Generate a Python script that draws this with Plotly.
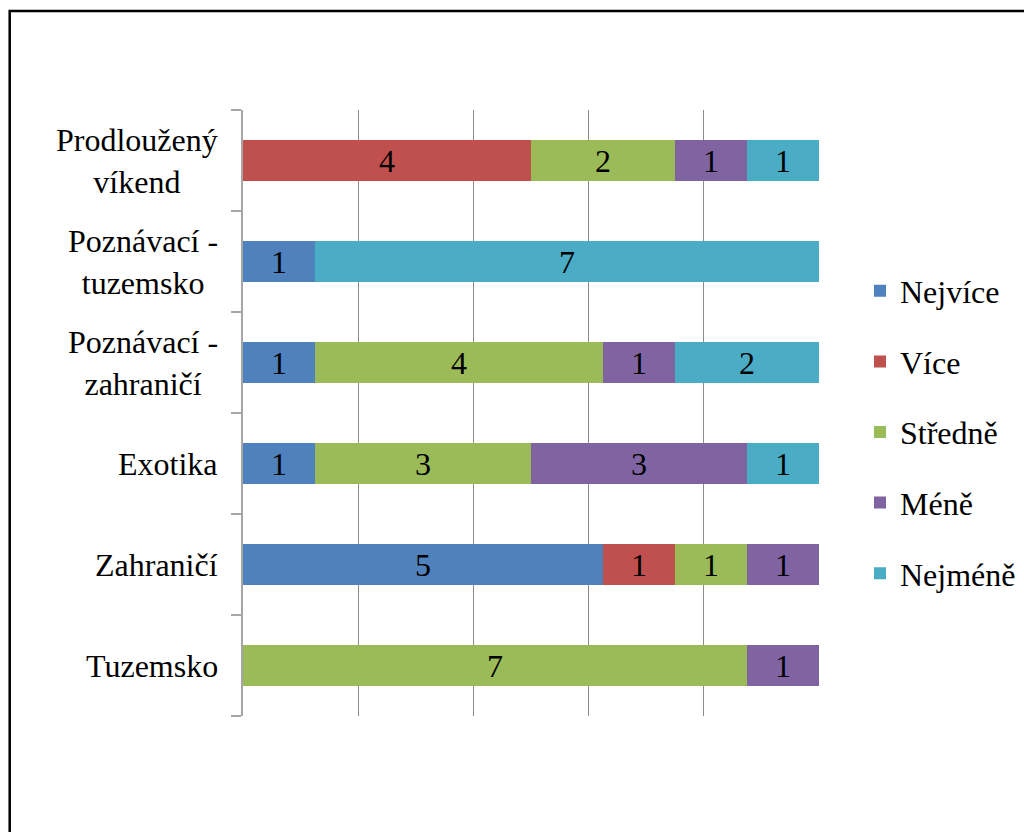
import plotly.graph_objects as go

categories = ["Tuzemsko", "Zahraničí", "Exotika", "Poznávací - zahraničí",
              "Poznávací - tuzemsko", "Prodloužený víkend"]
category_labels = ["Tuzemsko", "Zahraničí", "Exotika", "Poznávací -<br>zahraničí",
                   "Poznávací -<br>tuzemsko", "Prodloužený<br>víkend"]

nejvice = [0, 5, 1, 1, 1, 0]
vice = [0, 1, 0, 0, 0, 4]
stredne = [7, 1, 3, 4, 0, 2]
mene = [1, 1, 3, 1, 0, 1]
nejmene = [0, 0, 1, 2, 7, 1]

series = [
    ("Nejvíce", nejvice, "#4F81BD"),
    ("Více", vice, "#C0504D"),
    ("Středně", stredne, "#9BBB59"),
    ("Méně", mene, "#8064A2"),
    ("Nejméně", nejmene, "#4BACC6"),
]

FONT = "Liberation Serif"
FS = 32
SPAN = "<span style=\"font-family:'Liberation Serif',serif\">%s</span>"

fig = go.Figure()
for name, vals, color in series:
    fig.add_trace(go.Bar(
        y=categories, x=vals, name=SPAN % name, orientation="h",
        marker=dict(color=color),
        text=[str(v) if v else "" for v in vals],
        texttemplate=SPAN % "%{text}",
        textposition="inside", insidetextanchor="middle",
        textangle=0, constraintext="none",
        textfont=dict(family=FONT, size=FS, color="black"),
        legendgroup=name,
    ))

W, H = 1024, 832
L, R, T, B = 243, 205, 110, 116
pw, ph = W - L - R, H - T - B

def px_to_paper_x(px):
    return (px - L) / pw

def px_to_paper_y(py):
    return (H - B - py) / ph

annotations = []
for cat, lab in zip(categories, category_labels):
    annotations.append(dict(
        x=px_to_paper_x(220), xref="paper", xanchor="right",
        y=cat, yref="y", yanchor="middle",
        text=lab, showarrow=False, align="center",
        font=dict(family=FONT, size=FS, color="black"),
    ))

fig.update_layout(
    template="none",
    width=W, height=H,
    margin=dict(l=L, r=R, t=T, b=B, pad=0, autoexpand=False),
    barmode="stack", bargap=0.6,
    paper_bgcolor="white", plot_bgcolor="white",
    showlegend=True,
    legend=dict(
        x=px_to_paper_x(860), xanchor="left",
        y=px_to_paper_y(432), yanchor="middle",
        traceorder="grouped", tracegroupgap=26,
        font=dict(family=FONT, size=FS, color="black"),
    ),
    xaxis=dict(
        range=[0, 8], dtick=1.6, tick0=0,
        showgrid=True, gridcolor="#8C8C8C", gridwidth=1,
        showticklabels=False, zeroline=False, showline=False, ticks="",
    ),
    yaxis=dict(
        type="category", categoryorder="array", categoryarray=categories,
        range=[-0.5, 5.5],
        showticklabels=False, showline=True, linecolor="#A6A6A6", linewidth=1.5,
        ticks="outside", ticklen=10, tickcolor="#A6A6A6", tickwidth=1.5,
        tickson="boundaries", showgrid=False, zeroline=False,
    ),
    annotations=annotations,
    shapes=[dict(
        type="rect", xref="paper", yref="paper",
        x0=px_to_paper_x(9.7), x1=px_to_paper_x(1100),
        y0=px_to_paper_y(900), y1=px_to_paper_y(11),
        line=dict(color="black", width=2.5), fillcolor="rgba(0,0,0,0)",
        layer="above",
    )],
)

fig.write_html("out.html")
